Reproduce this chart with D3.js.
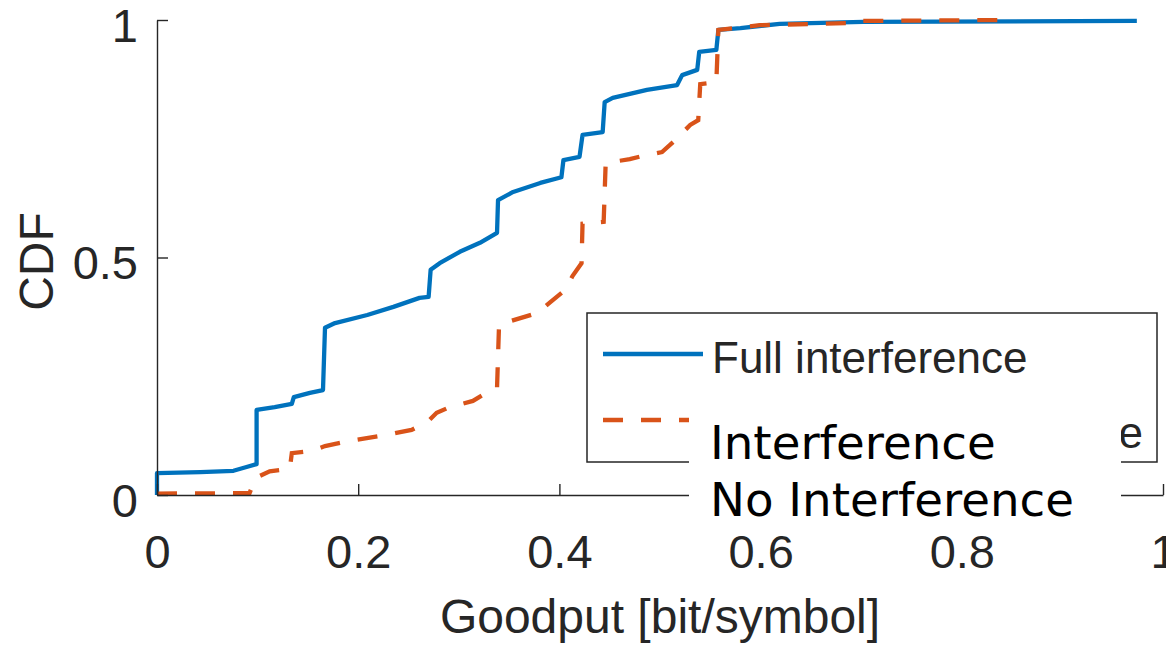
<!DOCTYPE html>
<html>
<head>
<meta charset="utf-8">
<script src="https://cdn.jsdelivr.net/npm/d3@7"></script>
<style>
  body { margin: 0; background: #fff; }
  .tick text { font-family: "Liberation Sans", Arial, sans-serif; }
</style>
</head>
<body>
<script>
var fullGoodput = [0, 0, 0.043, 0.076, 0.089, 0.099, 0.099, 0.117, 0.134, 0.136, 0.152, 0.165, 0.167, 0.177,
  0.209, 0.235, 0.261, 0.270, 0.272, 0.281, 0.301, 0.321, 0.338, 0.339, 0.354, 0.381, 0.402, 0.404, 0.420,
  0.423, 0.443, 0.445, 0.453, 0.487, 0.517, 0.522, 0.537, 0.539, 0.556, 0.558, 0.580, 0.619, 0.702, 0.974];
var fullCdf = [0, 0.046, 0.048, 0.051, 0.059, 0.065, 0.179, 0.185, 0.192, 0.206, 0.215, 0.221, 0.352, 0.362,
  0.379, 0.396, 0.415, 0.417, 0.474, 0.488, 0.512, 0.531, 0.552, 0.621, 0.638, 0.657, 0.669, 0.705, 0.712,
  0.758, 0.764, 0.827, 0.836, 0.853, 0.863, 0.884, 0.895, 0.933, 0.937, 0.979, 0.983, 0.992, 0.996, 0.998];

var noGoodput = [0, 0.092, 0.098, 0.112, 0.132, 0.134, 0.154, 0.167, 0.192, 0.227, 0.253, 0.269, 0.278, 0.291,
  0.314, 0.329, 0.338, 0.340, 0.348, 0.378, 0.391, 0.406, 0.413, 0.422, 0.423, 0.444, 0.446, 0.470, 0.483,
  0.502, 0.513, 0.530, 0.538, 0.540, 0.556, 0.558, 0.599, 0.694, 0.697, 0.848];
var noCdf = [0.003, 0.004, 0.036, 0.050, 0.055, 0.088, 0.093, 0.103, 0.114, 0.126, 0.137, 0.154, 0.173, 0.185,
  0.198, 0.217, 0.225, 0.358, 0.364, 0.383, 0.406, 0.432, 0.461, 0.488, 0.571, 0.575, 0.699, 0.707, 0.714,
  0.722, 0.743, 0.779, 0.789, 0.865, 0.869, 0.979, 0.989, 0.994, 0.998, 1.0];

var xTicks = [0, 0.2, 0.4, 0.6, 0.8, 1];
var yTicks = [0, 0.5, 1];
var legendLabels = ["Full interference", "No interference"];
var overlayLines = ["Interference", "No Interference"];

var margin = { top: 20, right: 3, bottom: 157, left: 157 },
    width = 1166 - margin.left - margin.right,
    height = 652 - margin.top - margin.bottom;

var ink = "#262626";
var blue = "#0072BD", orange = "#D95319";

var x = d3.scaleLinear().domain([0, 1]).range([0, width]);
var y = d3.scaleLinear().domain([0, 1]).range([height, 0]);

var zip = function(xs, ys) { return xs.map(function(v, i) { return [v, ys[i]]; }); };

var valueline = d3.line()
  .x(function(d) { return x(d[0]); })
  .y(function(d) { return y(d[1]); });

var root = d3.select("body")
  .append("svg")
    .attr("width", 1166)
    .attr("height", 652);

var svg = root.append("g")
    .attr("transform", "translate(" + margin.left + "," + margin.top + ")");

// curves: blue first, dashed orange on top
svg.append("path")
  .datum(zip(fullGoodput, fullCdf))
  .attr("fill", "none")
  .attr("stroke", blue)
  .attr("stroke-width", 4.3)
  .attr("stroke-linejoin", "round")
  .attr("d", valueline);

svg.append("path")
  .datum(zip(noGoodput, noCdf))
  .attr("fill", "none")
  .attr("stroke", orange)
  .attr("stroke-width", 4.3)
  .attr("stroke-dasharray", "20,18")
  .attr("d", valueline);

// axes, ticks pointing inward, matlab style
var xAxis = svg.append("g")
  .attr("transform", "translate(0," + height + ")")
  .call(d3.axisBottom(x).tickValues(xTicks).tickSizeInner(-11).tickSizeOuter(0)
    .tickFormat(function(d) { return d === 0 || d === 1 ? d : d3.format(".1f")(d); }));
xAxis.select(".domain").attr("stroke", ink).attr("stroke-width", 1.4);
xAxis.selectAll(".tick line").attr("stroke", ink).attr("stroke-width", 1.4);
xAxis.selectAll(".tick text")
  .attr("fill", ink)
  .attr("font-size", 47)
  .attr("dy", null)
  .attr("y", 73);

var yAxis = svg.append("g")
  .call(d3.axisLeft(y).tickValues(yTicks).tickSizeInner(-11).tickSizeOuter(0)
    .tickFormat(function(d) { return d; }));
yAxis.select(".domain").attr("stroke", ink).attr("stroke-width", 1.4);
yAxis.selectAll(".tick line").attr("stroke", ink).attr("stroke-width", 1.4);
yAxis.selectAll(".tick text")
  .attr("fill", ink)
  .attr("font-size", 47)
  .attr("x", -19)
  .attr("dy", 21);

svg.append("text")
  .attr("x", width / 2 + 0)
  .attr("y", height + 138)
  .attr("text-anchor", "middle")
  .attr("font-family", "Liberation Sans, Arial, sans-serif")
  .attr("font-size", 48)
  .attr("fill", ink)
  .text("Goodput [bit/symbol]");

svg.append("text")
  .attr("transform", "translate(" + (53 - margin.left) + "," + (y(0.5) + 4) + ") rotate(-90)")
  .attr("text-anchor", "middle")
  .attr("font-family", "Liberation Sans, Arial, sans-serif")
  .attr("font-size", 48)
  .attr("fill", ink)
  .text("CDF");

// legend
var legend = root.append("g").attr("transform", "translate(587,313)");
legend.append("rect")
  .attr("width", 570)
  .attr("height", 149)
  .attr("fill", "#fff")
  .attr("stroke", ink)
  .attr("stroke-width", 1.5);

legend.append("line")
  .attr("x1", 16).attr("x2", 116).attr("y1", 41).attr("y2", 41)
  .attr("stroke", blue).attr("stroke-width", 4.3);
legend.append("line")
  .attr("x1", 16).attr("x2", 116).attr("y1", 107).attr("y2", 107)
  .attr("stroke", orange).attr("stroke-width", 4.3)
  .attr("stroke-dasharray", "20,18");

legend.append("text")
  .attr("x", 125).attr("y", 60)
  .attr("font-family", "Liberation Sans, Arial, sans-serif")
  .attr("font-size", 44)
  .attr("fill", ink)
  .text(legendLabels[0]);
legend.append("text")
  .attr("x", 556).attr("y", 135)
  .attr("text-anchor", "end")
  .attr("font-family", "Liberation Sans, Arial, sans-serif")
  .attr("font-size", 44)
  .attr("fill", ink)
  .text(legendLabels[1]);

// white label box pasted over the legend
var overlay = root.append("g").attr("transform", "translate(689,400)");
overlay.append("rect")
  .attr("width", 432)
  .attr("height", 126)
  .attr("fill", "#fff");
overlay.selectAll("text")
  .data(overlayLines)
  .enter().append("text")
    .attr("x", 21)
    .attr("y", function(d, i) { return 59 + i * 57; })
    .attr("font-family", "DejaVu Sans, sans-serif")
    .attr("font-size", 46.7)
    .attr("fill", "#000")
    .text(function(d) { return d; });
</script>
</body>
</html>
